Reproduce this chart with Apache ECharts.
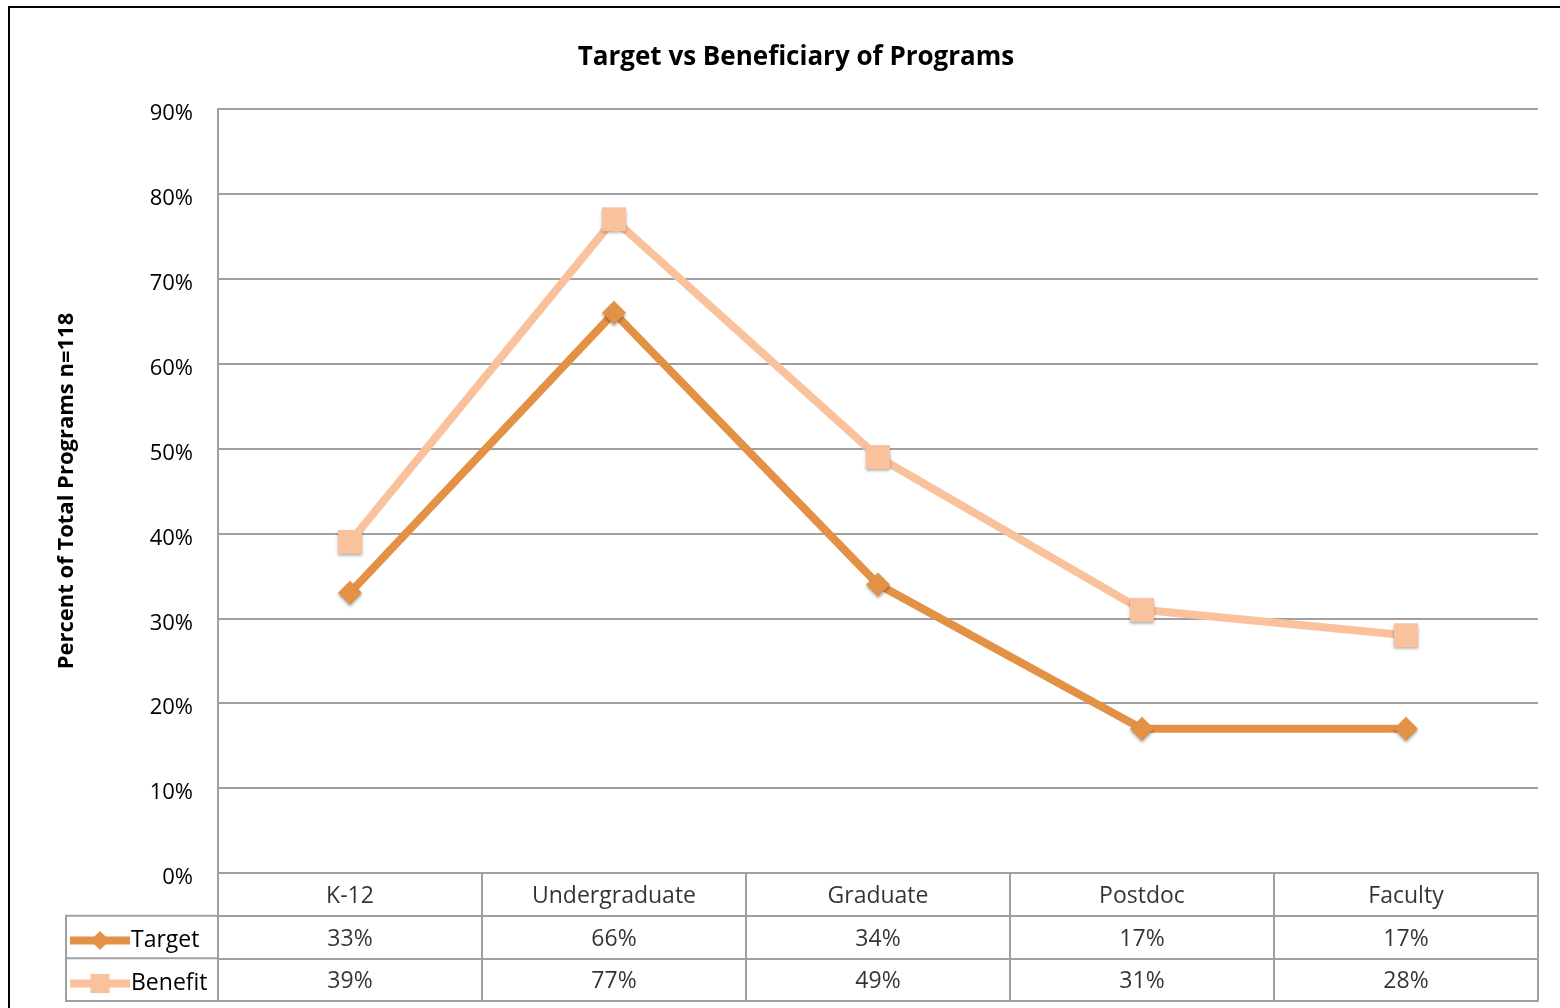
<!DOCTYPE html>
<html>
<head>
<meta charset="utf-8">
<script src="https://cdn.jsdelivr.net/npm/echarts@6/dist/echarts.min.js"></script>
<style>
  html, body { margin: 0; padding: 0; background: #fff; }
  #chart { width: 1560px; height: 1008px; }
</style>
</head>
<body>
<div id="chart"></div>
<script>
// 数据
const categories = ['K-12', 'Undergraduate', 'Graduate', 'Postdoc', 'Faculty'];
const targetValues = [33, 66, 34, 17, 17];
const benefitValues = [39, 77, 49, 31, 28];
const tableRows = ['header', 'Target', 'Benefit'];

const chart = echarts.init(document.getElementById('chart'));
const FONT = 'Open Sans';
const GRID_GRAY = '#a0a0a0';

// 表格文字：[列, 行, 文本]
const tableCells = [];
categories.forEach((c, i) => {
    tableCells.push([i, 0, c]);
    tableCells.push([i, 1, targetValues[i] + '%']);
    tableCells.push([i, 2, benefitValues[i] + '%']);
});

const markerShadow = {
    shadowBlur: 3,
    shadowColor: 'rgba(0,0,0,0.35)',
    shadowOffsetY: 2
};

chart.setOption({
    backgroundColor: '#fff',
    title: {
        text: 'Target vs Beneficiary of Programs',
        left: 791, textAlign: 'center', top: 40,
        textStyle: { fontFamily: FONT, fontSize: 26, fontWeight: 'bold', color: '#000' }
    },
    legend: {
        data: ['Target', 'Benefit'],
        orient: 'vertical',
        left: 61, top: 924,
        itemWidth: 60, itemHeight: 24, itemGap: 20,
        lineStyle: { width: 8 },
        textStyle: { fontFamily: FONT, fontSize: 23, color: '#000', padding: [0, 0, 0, -4] }
    },
    grid: [
        { left: 218, right: 22, top: 109, bottom: 135 },
        { left: 218, right: 22, top: 873, height: 128 }
    ],
    xAxis: [
        {
            type: 'category', gridIndex: 0, data: categories, boundaryGap: true,
            axisLine: { lineStyle: { color: GRID_GRAY, width: 2 } },
            axisTick: { show: false }, axisLabel: { show: false }
        },
        {
            type: 'category', gridIndex: 1, data: categories, boundaryGap: true,
            axisLine: { lineStyle: { color: GRID_GRAY, width: 2 } },
            axisTick: { show: false }, axisLabel: { show: false },
            splitLine: { show: true, lineStyle: { color: GRID_GRAY, width: 2 } }
        }
    ],
    yAxis: [
        {
            type: 'value', gridIndex: 0, min: 0, max: 90, interval: 10,
            name: 'Percent of Total Programs n=118',
            nameLocation: 'middle', nameGap: 140, nameRotate: 90,
            nameTextStyle: { fontFamily: FONT, fontSize: 22, fontWeight: 'bold', color: '#000' },
            axisLine: { show: true, lineStyle: { color: GRID_GRAY, width: 2 } },
            axisTick: { show: false },
            axisLabel: {
                formatter: '{a|{value}%}', margin: 25,
                rich: { a: { fontFamily: FONT, fontSize: 22, color: '#000', padding: [10, 0, 0, 0] } }
            },
            splitLine: { lineStyle: { color: GRID_GRAY, width: 2 } }
        },
        {
            type: 'category', gridIndex: 1, data: tableRows, inverse: true,
            axisLine: { show: true, lineStyle: { color: GRID_GRAY, width: 2 } },
            axisTick: { show: false }, axisLabel: { show: false },
            splitLine: { show: true, lineStyle: { color: GRID_GRAY, width: 2 } }
        }
    ],
    series: [
        {
            name: 'Target', type: 'line', data: targetValues,
            xAxisIndex: 0, yAxisIndex: 0,
            symbol: 'diamond', symbolSize: 24,
            lineStyle: { color: '#e39245', width: 8 },
            itemStyle: Object.assign({ color: '#e39245' }, markerShadow),
            z: 3
        },
        {
            name: 'Benefit', type: 'line', data: benefitValues,
            xAxisIndex: 0, yAxisIndex: 0,
            symbol: 'rect', symbolSize: 24,
            lineStyle: { color: '#f9c29c', width: 8 },
            itemStyle: Object.assign({ color: '#f9c29c' }, markerShadow),
            z: 2
        },
        {
            // 数据表格文字
            type: 'scatter', xAxisIndex: 1, yAxisIndex: 1,
            data: tableCells, symbolSize: 0, silent: true,
            label: {
                show: true, position: 'inside', offset: [0, 2],
                formatter: p => p.data[2],
                fontFamily: FONT, fontSize: 23, color: '#000'
            }
        }
    ],
    graphic: [
        // 外框
        { type: 'rect', shape: { x: 9, y: 7, width: 1700, height: 1200 },
          style: { fill: null, stroke: '#000', lineWidth: 2 }, silent: true },
        // 图例列边框
        { type: 'rect', shape: { x: 66, y: 915.7, width: 152, height: 85.3 },
          style: { fill: null, stroke: GRID_GRAY, lineWidth: 2 }, silent: true },
        { type: 'line', shape: { x1: 66, y1: 958.3, x2: 218, y2: 958.3 },
          style: { stroke: GRID_GRAY, lineWidth: 2 }, silent: true }
    ]
});
</script>
</body>
</html>
